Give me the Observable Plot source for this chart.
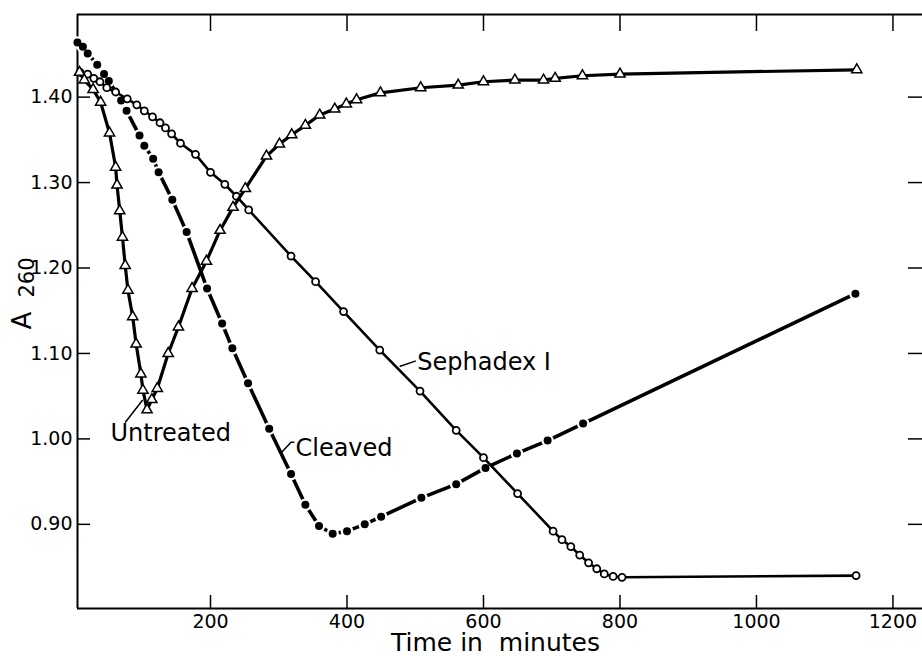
<!DOCTYPE html>
<html><head><meta charset="utf-8">
<script src="https://cdn.jsdelivr.net/npm/d3@7"></script>
<script src="https://cdn.jsdelivr.net/npm/@observablehq/plot@0.6"></script>
<style>body{margin:0;background:#fff;}</style>
</head><body><div id="chart"></div>
<script>
// Untreated (open triangles)
const untreatedT = [8, 15, 28, 39, 52, 61, 63, 67, 71, 75, 79, 86, 91, 98, 101, 107, 114, 122, 138, 153, 173, 194, 214, 233, 251, 282, 301, 319, 339, 360, 382, 399, 414, 449, 508, 563, 600, 646, 688, 705, 745, 800, 1147];
const untreatedA = [1.429, 1.420, 1.409, 1.394, 1.358, 1.318, 1.297, 1.267, 1.236, 1.203, 1.174, 1.143, 1.111, 1.076, 1.057, 1.034, 1.046, 1.059, 1.100, 1.131, 1.176, 1.208, 1.244, 1.271, 1.293, 1.331, 1.345, 1.356, 1.367, 1.379, 1.386, 1.392, 1.397, 1.405, 1.411, 1.414, 1.418, 1.420, 1.420, 1.422, 1.425, 1.427, 1.432];
// Sephadex I (open circles)
const sephadexT = [9, 20, 29, 38, 48, 61, 78, 92, 103, 115, 126, 134, 143, 156, 178, 200, 221, 238, 256, 318, 354, 395, 448, 507, 560, 600, 650, 702, 715, 728, 741, 754, 766, 777, 790, 803, 1146];
const sephadexA = [1.429, 1.427, 1.422, 1.418, 1.411, 1.406, 1.398, 1.391, 1.384, 1.377, 1.370, 1.364, 1.357, 1.346, 1.333, 1.312, 1.298, 1.284, 1.268, 1.214, 1.184, 1.149, 1.104, 1.056, 1.010, 0.978, 0.936, 0.892, 0.882, 0.874, 0.864, 0.855, 0.848, 0.842, 0.839, 0.838, 0.840];
// Cleaved (filled circles)
const cleavedT = [5, 13, 20, 34, 44, 51, 69, 77, 96, 103, 116, 124, 144, 165, 195, 217, 232, 255, 286, 318, 339, 359, 379, 400, 426, 450, 509, 560, 603, 649, 694, 746, 1145];
const cleavedA = [1.464, 1.459, 1.451, 1.438, 1.427, 1.419, 1.396, 1.384, 1.355, 1.343, 1.328, 1.312, 1.280, 1.242, 1.176, 1.135, 1.106, 1.065, 1.012, 0.959, 0.923, 0.898, 0.889, 0.892, 0.900, 0.909, 0.931, 0.947, 0.966, 0.983, 0.998, 1.018, 1.170];

const xTicks = [200, 400, 600, 800, 1000, 1200];
const yTicks = [0.90, 1.00, 1.10, 1.20, 1.30, 1.40];
const xDomain = [5.1, 1243.3];
const yDomain = [0.8015, 1.4967];

const seriesLabels = [
  {t: 53.5, a: 1.0065, text: "Untreated"},
  {t: 324.5, a: 0.989, text: "Cleaved"},
  {t: 503, a: 1.09, text: "Sephadex I"}
];
const leaders = [
  {id: "u", t: 75.5, a: 1.0197}, {id: "u", t: 100, a: 1.045},
  {id: "c", t: 305, a: 0.985}, {id: "c", t: 318, a: 0.996}, {id: "c", t: 322, a: 0.996},
  {id: "s", t: 478, a: 1.085}, {id: "s", t: 500, a: 1.091}
];

const rows = (t, a) => t.map((x, i) => ({t: x, a: a[i]}));
const untreated = rows(untreatedT, untreatedA);
const sephadex = rows(sephadexT, sephadexA);
const cleaved = rows(cleavedT, cleavedA);

const W = 922, H = 656, mL = 77, mR = 0, mT = 14, mB = 48;
const fw = W - mL - mR, fh = H - mT - mB;

const chart = Plot.plot({
  width: W, height: H,
  marginLeft: mL, marginRight: mR, marginTop: mT, marginBottom: mB,
  style: {fontFamily: "DejaVu Sans", background: "white", color: "black"},
  x: {domain: xDomain},
  y: {domain: yDomain},
  marks: [
    Plot.ruleX([xDomain[0]], {stroke: "black", strokeWidth: 2}),
    Plot.ruleY(yDomain, {stroke: "black", strokeWidth: 2}),
    Plot.ruleY(yTicks, {insetRight: fw - 13, strokeWidth: 1.5}),
    Plot.ruleY(yTicks, {insetLeft: fw - 14, strokeWidth: 1.5}),
    Plot.ruleX(xTicks, {insetBottom: fh - 17, strokeWidth: 1.5}),
    Plot.ruleX(xTicks, {insetTop: fh - 13, strokeWidth: 1.5}),
    Plot.axisX(xTicks, {tickSize: 0, tickPadding: 6, fontSize: 19, label: null, tickFormat: d => String(d)}),
    Plot.axisY(yTicks, {tickSize: 0, tickPadding: 5, fontSize: 19, label: null, tickFormat: d3.format(".2f")}),
    // Cleaved
    Plot.line(cleaved, {x: "t", y: "a", stroke: "black", strokeWidth: 3.6}),
    Plot.dot(cleaved, {x: "t", y: "a", r: 6.3, fill: "white"}),
    Plot.dot(cleaved, {x: "t", y: "a", r: 4, fill: "black"}),
    // Sephadex I
    Plot.line(sephadex, {x: "t", y: "a", stroke: "black", strokeWidth: 2.6}),
    Plot.dot(sephadex, {x: "t", y: "a", r: 3.5, fill: "white", stroke: "black", strokeWidth: 1.8}),
    // Untreated
    Plot.line(untreated, {x: "t", y: "a", stroke: "black", strokeWidth: 3.2}),
    Plot.dot(untreated, {x: "t", y: "a", symbol: "triangle", r: 3.8, fill: "white", stroke: "black", strokeWidth: 1.5}),
    // annotations
    Plot.line(leaders, {x: "t", y: "a", z: "id", stroke: "black", strokeWidth: 1.5}),
    Plot.text(seriesLabels, {x: "t", y: "a", text: "text", textAnchor: "start", lineAnchor: "middle", fontSize: 24, fill: "black"}),
    // axis titles
    Plot.text(["Time in\u00a0 minutes"], {text: d => d, frameAnchor: "bottom", dx: -4.5, dy: 34, lineAnchor: "middle", fontSize: 25, fill: "black"}),
    Plot.text(["A"], {text: d => d, frameAnchor: "left", dx: -55, dy: 18, rotate: -90, lineAnchor: "middle", fontSize: 26, fill: "black"}),
    Plot.text(["260"], {text: d => d, frameAnchor: "left", dx: -50.5, dy: -14, rotate: -90, lineAnchor: "middle", fontSize: 21, fill: "black"})
  ]
});
document.getElementById("chart").appendChild(chart);
</script>
</body></html>
